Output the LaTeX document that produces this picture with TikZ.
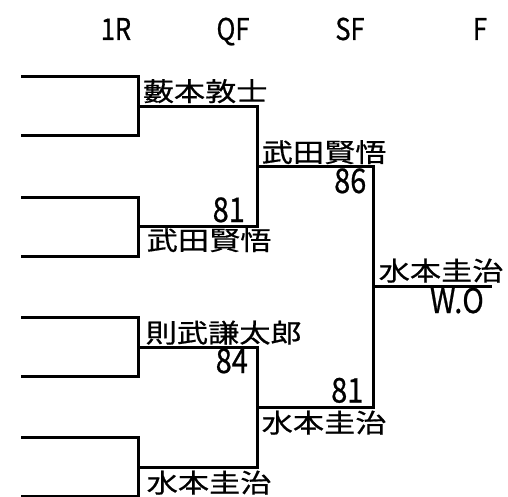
\documentclass[tikz,border=0pt]{standalone}
\usepackage{fontspec}
\setmainfont{Noto Sans CJK JP}
\newfontfamily\namefont[FakeStretch=1.2, FakeBold=0.6]{Noto Sans CJK JP}
\newfontfamily\scorefont[FakeStretch=0.85, FakeBold=0.6]{Noto Sans CJK JP}
\newfontfamily\roundfont[FakeStretch=0.85, FakeBold=0.6]{Noto Sans CJK JP}
\usepackage{tikz}
\usetikzlibrary{positioning}

\begin{document}
\begin{tikzpicture}[x=1pt, y=-1pt,
  bracket/.style={line width=3pt, line join=miter},
  player/.style={anchor=base west, inner sep=0pt, text height=22pt, text depth=2pt, font=\namefont\fontsize{26}{26}\selectfont},
  score/.style={anchor=base east, inner sep=0pt, text height=22pt, text depth=0pt, font=\scorefont\fontsize{34}{34}\selectfont},
  round/.style={anchor=base, inner sep=0pt, font=\roundfont\fontsize{30}{30}\selectfont}]
  \useasboundingbox (0,0) rectangle (508,497);

  % Rounds
  \node[round] (r1R) at (116, 40) {1R};
  \node[round] (rQF) at (233, 40) {QF};
  \node[round] (rSF) at (350, 40) {SF};
  \node[round] (rF)  at (480, 40) {F};

  % 1R
  \foreach \i/\y in {1/77, 2/136, 3/197, 4/256, 5/317, 6/376, 7/437, 8/496} {
    \coordinate (a\i) at (21, \y);
    \coordinate (b\i) at (138, \y);
  }
  \draw[bracket] (a1) -- (b1) -- (b2) -- (a2);
  \draw[bracket] (a3) -- (b3) -- (b4) -- (a4);
  \draw[bracket] (a5) -- (b5) -- (b6) -- (a6);
  \draw[bracket] (a7) -- (b7) -- (b8) -- (a8);

  % QF
  \foreach \i/\y in {1/107, 2/226, 3/347, 4/467} {
    \coordinate (q\i) at (138, \y);
    \coordinate (c\i) at (257, \y);
  }
  \draw[bracket] (q1) -- (c1) -- (c2) -- (q2);
  \draw[bracket] (q3) -- (c3) -- (c4) -- (q4);

  % SF
  \coordinate (s1) at (257, 167);
  \coordinate (d1) at (373, 167);
  \coordinate (s2) at (257, 407);
  \coordinate (d2) at (373, 407);
  \draw[bracket] (s1) -- (d1) -- (d2) -- (s2);

  % F
  \coordinate (f0) at (373, 286);
  \coordinate (f1) at (492, 286);
  \draw[bracket] (f0) -- (f1);

  % Names and scores
  \node[player] (qf1) at (142.5, 101) {藪本敦士};
  \node[score] (qf2score) at (245, 222) {81};
  \node[player] (qf2) at (146.5, 250) {武田賢悟};
  \node[player] (qf3) at (145.5, 342.5) {則武謙太郎};
  \node[score] (qf3score) at (248, 373) {84};
  \node[player] (qf4) at (146.5, 492.5) {水本圭治};

  \node[player] (sf1) at (261.5, 162) {武田賢悟};
  \node[score] (sf1score) at (366.5, 193) {86};
  \node[score] (sf2score) at (363.5, 402.5) {81};
  \node[player] (sf2) at (261.5, 432.5) {水本圭治};

  \node[player] (fin) at (378.5, 280.5) {水本圭治};
  \node[score] (finscore) at (484, 313) {W.O};
\end{tikzpicture}
\end{document}
